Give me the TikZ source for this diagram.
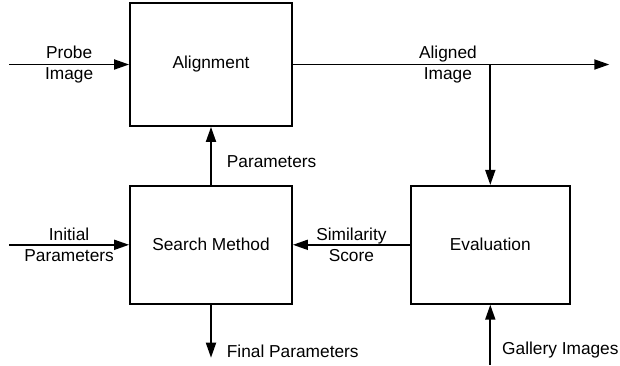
\documentclass[tikz,border=0pt]{standalone}
\usepackage{fontspec}
\setmainfont{Liberation Sans}
\usetikzlibrary{arrows.meta,positioning,calc}

\begin{document}
\begin{tikzpicture}[x=1pt,y=1pt,>={Triangle[length=15pt,width=10pt]},font=\fontsize{17.3}{21.5}\selectfont]
\tikzset{
 box/.style={draw,line width=1.8pt,minimum width=162pt,minimum height=123pt,inner sep=0pt},
 arrow/.style={->,line width=1.8pt},
 lbl/.style={align=center,inner sep=0pt}
}
\useasboundingbox (0,0) rectangle (620,-365);
\node[box] (align) at (211,-64.5) {Alignment};
\node[box,minimum height=118pt,below=58pt of align] (search) {Search Method};
\node[box,minimum width=159pt,minimum height=118pt,right=117pt of search] (eval) {Evaluation};
\coordinate[left=120pt of align.west] (probe);
\coordinate (branch) at (eval.north |- align.east);
\coordinate[right=119pt of branch] (out);
\coordinate[left=120pt of search.west] (init);
\coordinate[below=53pt of search.south] (final);
\coordinate[below=60pt of eval.south] (gallery);
\draw[arrow] (probe) -- node[lbl]{Probe\\Image} (align);
\draw[arrow] (align) -- node[lbl,pos=0.49]{Aligned\\Image} (out);
\draw[arrow] (branch) -- (eval);
\draw[arrow] (search) -- node[lbl,anchor=west,pos=0.4,xshift=15pt]{Parameters} (align);
\draw[arrow] (init) -- node[lbl]{Initial\\Parameters} (search);
\draw[arrow] (eval) -- node[lbl]{Similarity\\Score} (search);
\draw[arrow] (search) -- node[lbl,anchor=west,pos=0.88,xshift=15pt]{Final Parameters} (final);
\draw[arrow] (gallery) -- node[lbl,anchor=west,pos=0.25,xshift=11pt]{Gallery Images} (eval);
\end{tikzpicture}
\end{document}
